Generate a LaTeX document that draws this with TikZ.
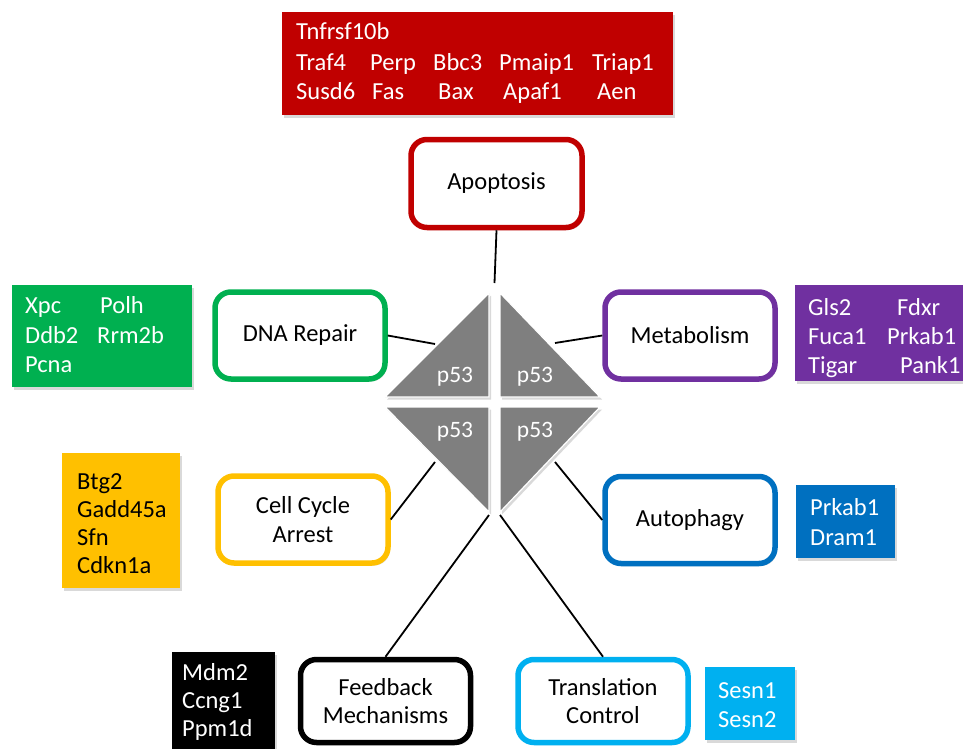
\documentclass[tikz,border=0pt]{standalone}
\usepackage{fontspec}
\setmainfont{Carlito}
\usetikzlibrary{shadows}
\definecolor{cred}{HTML}{C00000}
\definecolor{cgreen}{HTML}{00B050}
\definecolor{cpurple}{HTML}{7030A0}
\definecolor{cgold}{HTML}{FFC000}
\definecolor{cblue}{HTML}{0070C0}
\definecolor{clblue}{HTML}{00B0F0}
\definecolor{cgray}{HTML}{7F7F7F}
\begin{document}
\begin{tikzpicture}[x=1pt,y=-1pt,
  shad/.style={drop shadow={opacity=0.3, shadow xshift=2pt, shadow yshift=-2.5pt}},
  lbl/.style={draw, fill=white, line width=5.5pt, rounded corners=16pt,
    minimum width=170pt, minimum height=87pt, align=center, inner sep=0pt,
    font=\fontsize{24.5}{28.5}\selectfont, shad},
  gbox/.style={anchor=north west, inner sep=0pt, shad},
  gene/.style={anchor=base west, inner sep=0pt, text=white, font=\fontsize{24.5}{28}\selectfont},
  conn/.style={line width=1.8pt, black},
  tri/.style={fill=cgray, draw=white, line width=1.2pt, shad},
  ptext/.style={anchor=base, text=white, inner sep=0pt, font=\fontsize{23.5}{28}\selectfont}]
\useasboundingbox (0,0) rectangle (963,749);

% gene boxes
\node[gbox, fill=cred, minimum width=391pt, minimum height=103pt] (redbox) at (282,12) {};
\node[gbox, fill=cgreen, minimum width=180pt, minimum height=102pt] (greenbox) at (12,285) {};
\node[gbox, fill=cpurple, minimum width=170pt, minimum height=96pt] (purplebox) at (795,285) {};
\node[gbox, fill=cgold, minimum width=118pt, minimum height=135pt] (goldbox) at (62,453) {};
\node[gbox, fill=cblue, minimum width=99pt, minimum height=73pt] (bluebox) at (796,485) {};
\node[gbox, fill=black, minimum width=103pt, minimum height=100pt] (blackbox) at (172,652) {};
\node[gbox, fill=clblue, minimum width=90pt, minimum height=73pt] (lbluebox) at (705,667) {};

% gene texts
\foreach \t/\x/\y [count=\i] in {Tnfrsf10b/296/40, Traf4/296/71, Perp/370/71, Bbc3/433/71, Pmaip1/499/71, Triap1/592/71,
  Susd6/296/100, Fas/372/100, Bax/438/100, Apaf1/503/100, Aen/597/100}
  \node[gene] (r\i) at (\x,\y) {\t};
\foreach \t/\x/\y [count=\i] in {Xpc/25/313, Polh/100/313, Ddb2/25/343, Rrm2b/97/343, Pcna/25/372}
  \node[gene] (g\i) at (\x,\y) {\t};
\foreach \t/\x/\y [count=\i] in {Gls2/808/315, Fdxr/897/315, Fuca1/808/344, Prkab1/887/344, Tigar/808/373, Pank1/900/373}
  \node[gene] (p\i) at (\x,\y) {\t};
\foreach \t/\y [count=\i] in {Btg2/489, Gadd45a/517, Sfn/545, Cdkn1a/573}
  \node[gene, text=black] (y\i) at (77,\y) {\t};
\foreach \t/\y [count=\i] in {Prkab1/515, Dram1/545}
  \node[gene] (b\i) at (810,\y) {\t};
\foreach \t/\y [count=\i] in {Mdm2/680, Ccng1/708, Ppm1d/736}
  \node[gene] (k\i) at (182,\y) {\t};
\foreach \t/\y [count=\i] in {Sesn1/698, Sesn2/727}
  \node[gene] (l\i) at (718,\y) {\t};

% p53 triangles
\path[tri] (489,293) -- (385,397) -- (489,397) -- cycle;
\path[tri] (500,293) -- (600,397) -- (500,397) -- cycle;
\path[tri] (385,407) -- (489,407) -- (489,512) -- cycle;
\path[tri] (500,407) -- (600,407) -- (500,512) -- cycle;
\node[ptext] (pul) at (455,382) {p53};
\node[ptext] (pur) at (535,382) {p53};
\node[ptext] (pll) at (455,437) {p53};
\node[ptext] (plr) at (535,437) {p53};

% label boxes
\node[lbl, draw=cred, minimum width=171pt, minimum height=88pt] (apo) at (496.5,183.5) {Apoptosis};
\node[lbl, draw=cgreen] (dna) at (300,335.5) {DNA Repair};
\node[lbl, draw=cpurple] (met) at (690,335.5) {Metabolism};
\node[lbl, draw=cgold] (cca) at (303,519.5) {Cell Cycle\\Arrest};
\node[lbl, draw=cblue] (aut) at (690,520) {Autophagy};
\node[lbl, draw=black, minimum height=83pt] (fb) at (385.5,701) {Feedback\\Mechanisms};
\node[lbl, draw=clblue, minimum height=83pt] (tc) at (603,701) {Translation\\Control};

% connector ends on the triangles
\coordinate (tA) at (494.5,283);
\coordinate (tDNA) at (435,344);
\coordinate (tMet) at (555,343);
\coordinate (tCC) at (435,462);
\coordinate (tAut) at (555,462);
\coordinate (tFB) at (489,515);
\coordinate (tTC) at (500,515);

\draw[conn] (apo.south) -- (tA);
\draw[conn] (dna.east) -- (tDNA);
\draw[conn] (met.west) -- (tMet);
\draw[conn] (cca.east) -- (tCC);
\draw[conn] (aut.west) -- (tAut);
\draw[conn] (fb.north) -- (tFB);
\draw[conn] (tc.north) -- (tTC);
\end{tikzpicture}
\end{document}
